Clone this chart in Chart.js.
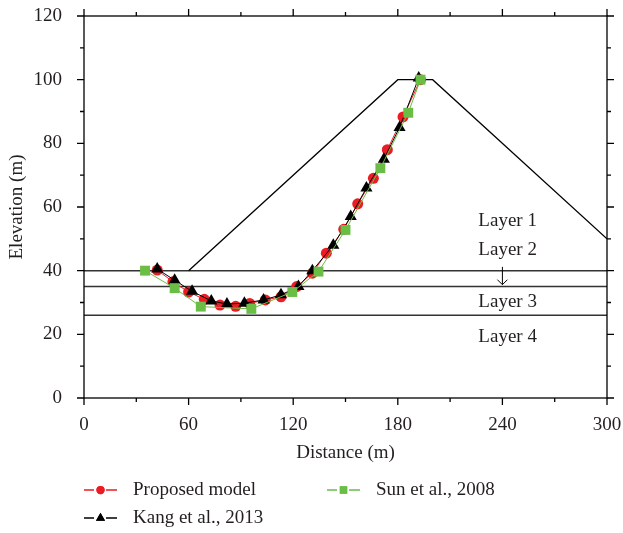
<!DOCTYPE html>
<html>
<head>
    <title>Slip surface</title>
    <meta http-equiv="Content-type" content="text/html; charset=utf-8">
    <script src="https://cdn.jsdelivr.net/npm/chart.js"></script>
    <style>
        body { margin: 0; background: #fff; }
    </style>
</head>
<body>
    <canvas id="profile" width="623" height="533"></canvas>

    <script>
        // ---------------- data ----------------
        var proposedX = [42, 51, 60, 69, 78, 87, 95, 104, 113, 122, 131, 139, 149, 157, 166, 174, 183, 193];
        var proposedY = [40.2, 36.5, 33.3, 31, 29.2, 28.8, 29.7, 30.8, 31.8, 35, 39.2, 45.5, 53, 61, 69, 78, 88.3, 100];

        var kangX = [42, 52, 62, 73, 82, 92, 103, 113, 123, 131, 143, 153, 162, 172, 181, 192];
        var kangY = [40.5, 37, 33.5, 30.5, 29.5, 29.8, 30.8, 32.4, 35, 40, 48, 57, 66, 75, 85, 100.5];

        var sunX = [35, 52, 67, 96, 119.5, 134.5, 150, 170, 186, 193];
        var sunY = [40, 34.5, 28.7, 28, 33.3, 39.7, 52.8, 72.2, 89.6, 100];

        // embankment outline
        var damX = [60, 180, 200, 300];
        var damY = [40, 100, 100, 50];

        // layer boundaries
        var layerY = [40, 35, 26];
        var layerNames = ["Layer 1", "Layer 2", "Layer 3", "Layer 4"];
        var layerNameY = [55.5, 46.5, 30.2, 19.2];
        var layerNameX = 243;

        var xTicks = [0, 60, 120, 180, 240, 300];
        var yTicks = [0, 20, 40, 60, 80, 100, 120];

        function pts(xs, ys) {
            return xs.map(function(x, i) { return {x: x, y: ys[i]}; });
        }

        var FONT = "'Liberation Serif', 'DejaVu Serif', serif";
        var INK = "#231f20";
        var RED = "#ec1c24";
        var GREEN = "#6abd45";

        Chart.defaults.font.family = FONT;
        Chart.defaults.font.size = 19;
        Chart.defaults.color = INK;

        var datasets = [];

        datasets.push({
            label: "Proposed model",
            data: pts(proposedX, proposedY),
            borderColor: RED, backgroundColor: RED,
            borderWidth: 1, pointRadius: 5.5, pointStyle: "circle",
            pointBorderWidth: 0, order: 3
        });
        datasets.push({
            label: "Kang et al., 2013",
            data: pts(kangX, kangY),
            borderColor: "#000", backgroundColor: "#000",
            borderWidth: 1, pointRadius: 7, pointStyle: "triangle",
            pointBorderWidth: 0, order: 2
        });
        datasets.push({
            label: "Sun et al., 2008",
            data: pts(sunX, sunY),
            borderColor: GREEN, backgroundColor: GREEN,
            borderWidth: 1, pointRadius: 7, pointStyle: "rect",
            pointBorderWidth: 0, order: 1
        });
        datasets.push({
            label: "dam",
            data: pts(damX, damY),
            borderColor: "#000", borderWidth: 1.3, pointRadius: 0, order: 10
        });
        layerY.forEach(function(v) {
            datasets.push({
                label: "layer",
                data: [{x: 0, y: v}, {x: 300, y: v}],
                borderColor: "#333", borderWidth: 1.5, pointRadius: 0, order: 10
            });
        });

        function noOverflow(s) {
            s.paddingTop = 0; s.paddingBottom = 0;
            s.paddingLeft = 0; s.paddingRight = 0;
        }

        // frame, outward ticks on all sides, layer names, arrow, legend
        var decor = {
            id: "decor",
            afterDraw: function(chart) {
                var ctx = chart.ctx;
                var a = chart.chartArea;
                var xs = chart.scales.x, ys = chart.scales.y;
                ctx.save();
                ctx.strokeStyle = "#000";
                ctx.lineWidth = 1.3;
                ctx.strokeRect(a.left, a.top, a.right - a.left, a.bottom - a.top);

                ctx.beginPath();
                for (var v = 0; v <= 300; v += 30) {
                    var px = xs.getPixelForValue(v);
                    var len = (v % 60 === 0) ? 7 : 4;
                    ctx.moveTo(px, a.bottom); ctx.lineTo(px, a.bottom + len);
                    ctx.moveTo(px, a.top); ctx.lineTo(px, a.top - len);
                }
                for (var w = 0; w <= 120; w += 10) {
                    var py = ys.getPixelForValue(w);
                    var l2 = (w % 20 === 0) ? 7 : 4;
                    ctx.moveTo(a.left, py); ctx.lineTo(a.left - l2, py);
                    ctx.moveTo(a.right, py); ctx.lineTo(a.right + l2, py);
                }
                ctx.stroke();

                // layer names
                ctx.fillStyle = INK;
                ctx.font = "19px " + FONT;
                ctx.textAlign = "center";
                ctx.textBaseline = "middle";
                layerNames.forEach(function(n, i) {
                    ctx.fillText(n, xs.getPixelForValue(layerNameX), ys.getPixelForValue(layerNameY[i]));
                });

                // arrow pointing to layer 2
                var ax = xs.getPixelForValue(240);
                var ay0 = ys.getPixelForValue(41.2), ay1 = ys.getPixelForValue(35.6);
                ctx.lineWidth = 1;
                ctx.beginPath();
                ctx.moveTo(ax, ay0); ctx.lineTo(ax, ay1);
                ctx.moveTo(ax - 5, ay1 - 5); ctx.lineTo(ax, ay1); ctx.lineTo(ax + 5, ay1 - 5);
                ctx.stroke();

                // legend
                var items = [
                    {ds: 0, x: 84, y: 490},
                    {ds: 2, x: 327, y: 490},
                    {ds: 1, x: 84, y: 518}
                ];
                items.forEach(function(it) {
                    var d = chart.data.datasets[it.ds];
                    ctx.strokeStyle = d.borderColor;
                    ctx.lineWidth = 1.3;
                    ctx.beginPath();
                    ctx.moveTo(it.x, it.y); ctx.lineTo(it.x + 10, it.y);
                    ctx.moveTo(it.x + 22, it.y); ctx.lineTo(it.x + 33, it.y);
                    ctx.stroke();
                    ctx.fillStyle = d.backgroundColor;
                    Chart.helpers.drawPoint(ctx, {pointStyle: d.pointStyle, radius: d.pointRadius * 0.75, borderWidth: 0}, it.x + 16.5, it.y);
                    ctx.fill();
                    ctx.fillStyle = INK;
                    ctx.textAlign = "left";
                    ctx.fillText(d.label, it.x + 49, it.y);
                });
                ctx.restore();
            }
        };

        new Chart(document.getElementById("profile"), {
            type: "scatter",
            data: {datasets: datasets},
            plugins: [decor],
            options: {
                responsive: false,
                animation: false,
                showLine: true,
                layout: {padding: {top: 16, right: 16, left: 0, bottom: 65}},
                plugins: {legend: {display: false}, tooltip: {enabled: false}},
                scales: {
                    x: {
                        type: "linear", min: 0, max: 300,
                        afterBuildTicks: function(s) { s.ticks = xTicks.map(function(v) { return {value: v}; }); },
                        grid: {display: false},
                        border: {display: false},
                        ticks: {padding: 8, maxRotation: 0, color: INK},
                        title: {display: true, text: "Distance (m)", color: INK, padding: {top: 4, bottom: 4}},
                        afterFit: function(s) { s.height = 70; noOverflow(s); }
                    },
                    y: {
                        type: "linear", min: 0, max: 120,
                        afterBuildTicks: function(s) { s.ticks = yTicks.map(function(v) { return {value: v}; }); },
                        grid: {display: false},
                        border: {display: false},
                        ticks: {padding: 14, color: INK},
                        title: {display: true, text: "Elevation (m)", color: INK, padding: {top: 6, bottom: 0}},
                        afterFit: function(s) { s.width = 84; noOverflow(s); }
                    }
                }
            }
        });
    </script>
</body>
</html>
